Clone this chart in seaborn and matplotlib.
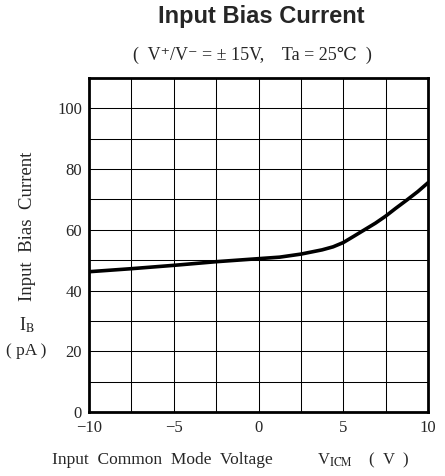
import numpy as np
import pandas as pd
import seaborn as sns
import matplotlib.pyplot as plt

# values
v_icm = [-10, -7.5, -5, -2.5, 0, 1.25, 2.5, 3.75, 4.4, 5, 5.6, 6.25, 6.9, 7.5, 8.1, 8.75, 9.4, 10]
i_bias = [46.2, 47.2, 48.3, 49.5, 50.5, 51.0, 52.0, 53.4, 54.4, 55.8, 57.8, 60.0, 62.2,
          64.5, 67.1, 69.8, 72.6, 75.5]
x_ticks = [-10, -5, 0, 5, 10]
x_labels = ["\u221210", "\u22125", "0", "5", "10"]
y_ticks = [0, 20, 40, 60, 80, 100]

df = pd.DataFrame({"V": v_icm, "IB": i_bias})

sns.set_style("white")
plt.rcParams["mathtext.fontset"] = "stix"
serif = ["Liberation Serif", "DejaVu Serif", "Noto Sans CJK JP"]

W, H = 445, 476
fig = plt.figure(figsize=(W / 100, H / 100), dpi=100)
ax = fig.add_axes([89 / W, 1 - 412 / H, 339 / W, 334 / H])

sns.lineplot(data=df, x="V", y="IB", ax=ax, color="black", linewidth=2.6)

ax.set_xlim(-10, 10)
ax.set_ylim(0, 110)
ax.set_xticks(x_ticks)
ax.set_xticklabels(x_labels)
ax.set_xticks(np.arange(-10, 10.1, 2.5), minor=True)
ax.set_yticks(y_ticks)
ax.set_yticks(np.arange(0, 110.1, 10), minor=True)
ax.grid(True, which="both", color="black", linewidth=0.75)
ax.tick_params(which="both", length=0, labelsize=12)
ax.tick_params(axis="x", pad=6)
ax.tick_params(axis="y", pad=5)
for lab in ax.get_xticklabels() + ax.get_yticklabels():
    lab.set_family(serif)
for s in ax.spines.values():
    s.set_visible(True)
    s.set_color("black")
    s.set_linewidth(2)
ax.set_xlabel("")
ax.set_ylabel("")

fig.text(261 / W, 1 - 17 / H, "Input Bias Current", ha="center", va="center",
         fontsize=17, fontweight="bold", family=["Liberation Sans", "DejaVu Sans"])
fig.text(252 / W, 1 - 55 / H, "(  V\u207a/V\u207b = \u00b1 15V,    Ta = 25\u2103  )",
         ha="center", va="center", fontsize=13, family=serif)
fig.text(28 / W, 1 - 226 / H, "Input  Bias  Current", rotation=90,
         ha="center", va="center", fontsize=13.5, family=serif)
fig.text(27 / W, 1 - 325 / H, "I$_{\\mathrm{B}}$", ha="center", va="center",
         fontsize=13, family=serif)
fig.text(26 / W, 1 - 351 / H, "( pA )", ha="center", va="center",
         fontsize=12.5, family=serif)
fig.text(162 / W, 1 - 460 / H, "Input  Common  Mode  Voltage",
         ha="center", va="center", fontsize=12.5, family=serif)
fig.text(363 / W, 1 - 460 / H, "V$_{\\mathrm{ICM}}$    (  V  )",
         ha="center", va="center", fontsize=12, family=serif)

fig.savefig("out.png", dpi=100)
